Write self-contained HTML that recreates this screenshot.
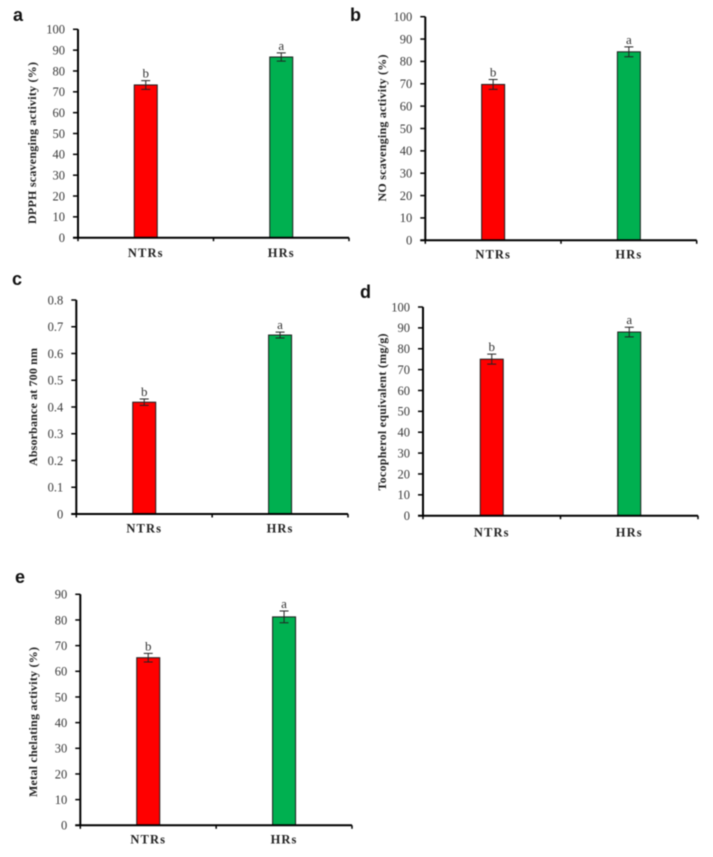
<!DOCTYPE html>
<html>
<head>
<meta charset="utf-8">
<style>
html,body{margin:0;padding:0;background:#fff;width:713px;height:857px;overflow:hidden}
svg{display:block;position:absolute;left:0;top:0}
#charts{filter:blur(0.4px)}
</style>
</head>
<body>
<svg id="charts" width="713" height="857" viewBox="0 0 713 857" xmlns="http://www.w3.org/2000/svg"></svg>
<script>
const categories = ['NTRs', 'HRs'];
const significance = ['b', 'a'];

const valuesA = [73.3, 86.7];
const errorsA = [2.1, 2.0];
const ticksA = [0, 10, 20, 30, 40, 50, 60, 70, 80, 90, 100];

const valuesB = [69.7, 84.3];
const errorsB = [2.2, 2.2];
const ticksB = [0, 10, 20, 30, 40, 50, 60, 70, 80, 90, 100];

const valuesC = [0.418, 0.669];
const errorsC = [0.012, 0.011];
const ticksC = [0, 0.1, 0.2, 0.3, 0.4, 0.5, 0.6, 0.7, 0.8];

const valuesD = [75, 88];
const errorsD = [2.4, 2.3];
const ticksD = [0, 10, 20, 30, 40, 50, 60, 70, 80, 90, 100];

const valuesE = [65.3, 81.2];
const errorsE = [1.7, 2.3];
const ticksE = [0, 10, 20, 30, 40, 50, 60, 70, 80, 90];

const barColors = ['#ff0000', '#00b050'];

const panels = [
  {id:'a', title:'DPPH scavenging activity (%)', vals:valuesA, errs:errorsA, ticks:ticksA,
   left:78, right:349, top:29.3, bottom:237.7, titleX:32, titleMid:143, titleLen:162, catY:257, letterX:13, letterY:21},
  {id:'b', title:'NO scavenging activity (%)', vals:valuesB, errs:errorsB, ticks:ticksB,
   left:425.3, right:696.7, top:16.7, bottom:240.3, titleX:382, titleMid:128, titleLen:147, catY:258.5, letterX:350, letterY:21},
  {id:'c', title:'Absorbance at 700 nm', vals:valuesC, errs:errorsC, ticks:ticksC,
   left:76.3, right:348, top:300, bottom:514, titleX:33, titleMid:407, titleLen:118, catY:532.5, letterX:12, letterY:285},
  {id:'d', title:'Tocopherol equivalent (mg/g)', vals:valuesD, errs:errorsD, ticks:ticksD,
   left:423, right:698, top:307, bottom:515.7, titleX:382, titleMid:412, titleLen:157, catY:536.5, letterX:360, letterY:298},
  {id:'e', title:'Metal chelating activity (%)', vals:valuesE, errs:errorsE, ticks:ticksE,
   left:80.3, right:352, top:594.3, bottom:825.3, titleX:33, titleMid:722, titleLen:150, catY:843.5, letterX:15, letterY:583}
];

const NS = 'http://www.w3.org/2000/svg';
const root = document.getElementById('charts');

function make(parent, tag, attrs, text) {
  const el = document.createElementNS(NS, tag);
  for (const k in attrs) el.setAttribute(k, attrs[k]);
  if (text !== undefined) el.textContent = text;
  parent.appendChild(el);
  return el;
}

function drawPanel(p) {
  const g = make(root, 'g', {});
  
  

  const maxTick = p.ticks[p.ticks.length - 1];
  const yScale = v => p.bottom - (v / maxTick) * (p.bottom - p.top);
  const band = (p.right - p.left) / categories.length;
  const xScale = i => p.left + (i + 0.5) * band;
  const serif = '"Liberation Serif", serif';

  const letter = make(g, 'text', {x:p.letterX, y:p.letterY, 'font-family':'"Liberation Sans", sans-serif', 'font-weight':'bold', 'font-size':18, fill:'#111'}, p.id);
  
  

  const title = make(g, 'text', {
    x:0, y:0, transform:'translate(' + (p.titleX + 4) + ',' + p.titleMid + ') rotate(-90)',
    'text-anchor':'middle', 'font-family':serif, 'font-weight':'bold', 'font-size':12, fill:'#222',
    textLength:p.titleLen, lengthAdjust:'spacing'
  }, p.title);
  
  

  categories.forEach((cat, i) => {
    const cx = xScale(i);
    const y = yScale(p.vals[i]);
    const bar = make(g, 'rect', {x:cx - 11.5, y:y, width:23, height:p.bottom - y, fill:barColors[i], stroke:'#1c1c1c', 'stroke-width':1});
    
    

    const yHi = yScale(p.vals[i] + p.errs[i]);
    const yLo = yScale(p.vals[i] - p.errs[i]);
    const err = make(g, 'path', {
      d:'M' + cx + ' ' + yHi + 'V' + yLo + 'M' + (cx - 4.5) + ' ' + yHi + 'H' + (cx + 4.5) + 'M' + (cx - 4.5) + ' ' + yLo + 'H' + (cx + 4.5),
      stroke:'#222', 'stroke-width':1, fill:'none'
    });
    
    

    const sig = make(g, 'text', {x:cx, y:yHi - 3, 'text-anchor':'middle', 'font-family':serif, 'font-size':13, fill:'#333'}, significance[i]);
    
    

    const label = make(g, 'text', {x:cx, y:p.catY, 'text-anchor':'middle', 'font-family':serif, 'font-weight':'bold', 'font-size':12.5, 'letter-spacing':1.1, fill:'#222'}, cat);
    
    
  });

  const yAxis = make(g, 'line', {x1:p.left, x2:p.left, y1:p.top, y2:p.bottom, stroke:'#000', 'stroke-width':2});
  
  

  const xAxis = make(g, 'line', {x1:p.left - 5, x2:p.right, y1:p.bottom, y2:p.bottom, stroke:'#000', 'stroke-width':2});
  
  

  p.ticks.forEach(t => {
    const y = yScale(t);
    const tick = make(g, 'line', {x1:p.left - 5, x2:p.left, y1:y, y2:y, stroke:'#000', 'stroke-width':1.5});
    
    

    const lab = make(g, 'text', {x:p.left - 13, y:y + 4.3, 'text-anchor':'end', 'font-family':serif, 'font-size':12.5, fill:'#3a3a3a'}, String(t));
    
    
  });

  for (let i = 0; i <= categories.length; i++) {
    const x = p.left + i * band;
    const tick = make(g, 'line', {x1:x, x2:x, y1:p.bottom, y2:p.bottom + 3.5, stroke:'#000', 'stroke-width':1.5});
    
    
  }
}

panels.forEach(drawPanel);
</script>
</body>
</html>
